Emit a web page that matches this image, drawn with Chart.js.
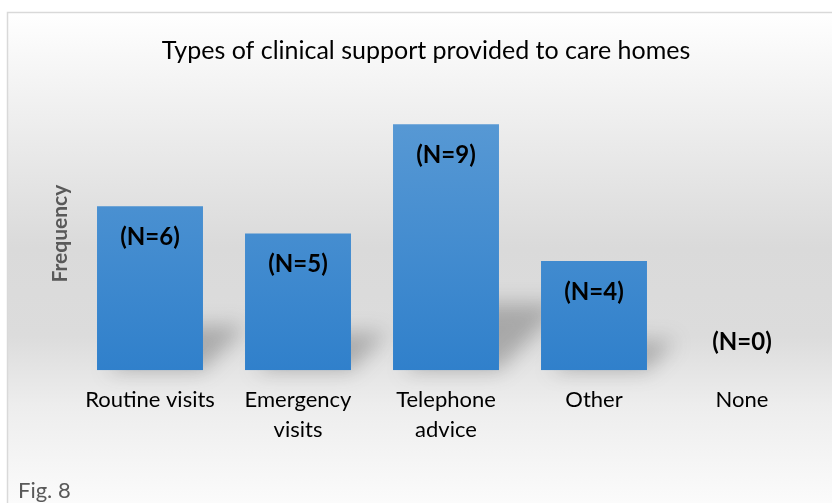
<!DOCTYPE html>
<html>
<head>
<meta charset="utf-8">
<script src="https://cdn.jsdelivr.net/npm/chart.js@4.4.0/dist/chart.umd.min.js"></script>
<style>
  html, body { margin: 0; padding: 0; background: #fff; }
  canvas { display: block; }
</style>
</head>
<body>
<canvas id="support" width="832" height="503"></canvas>
<script>
const categories = [["Routine visits"], ["Emergency", "visits"], ["Telephone", "advice"], ["Other"], ["None"]];
const frequency = [6, 5, 9, 4, 0];
const valueLabels = ["(N=6)", "(N=5)", "(N=9)", "(N=4)", "(N=0)"];

// frame + gradient background, drawn under everything
const frameBg = {
  id: 'frameBg',
  beforeDraw(chart) {
    const c = chart.ctx;
    c.save();
    const g = c.createLinearGradient(0, 12, 0, 503);
    g.addColorStop(0, '#ffffff');
    g.addColorStop(0.18, '#f1f1f1');
    g.addColorStop(0.48, '#dadada');
    g.addColorStop(0.66, '#dcdcdc');
    g.addColorStop(0.80, '#ededed');
    g.addColorStop(1, '#fbfbfb');
    c.fillStyle = g;
    c.fillRect(7, 12, 832, 503);
    c.strokeStyle = '#d9d9d9';
    c.lineWidth = 1.5;
    c.beginPath();
    c.moveTo(7.5, 503);
    c.lineTo(7.5, 12.5);
    c.lineTo(832, 12.5);
    c.stroke();
    c.fillStyle = '#595959';
    c.font = '22px Lato';
    c.textBaseline = 'middle';
    c.fillText('Fig. 8', 18, 491);
    c.restore();
  }
};

// soft floor shadows behind the bars
const barShadows = {
  id: 'barShadows',
  beforeDatasetsDraw(chart) {
    const c = chart.ctx;
    const meta = chart.getDatasetMeta(0);
    c.save();
    c.filter = 'blur(10px)';
    c.fillStyle = 'rgba(60,60,60,0.32)';
    meta.data.forEach((bar) => {
      const h = bar.base - bar.y;
      if (h <= 0) return;
      const left = bar.x - bar.width / 2;
      const right = bar.x + bar.width / 2;
      const dy = h * 0.27, dx = h * 0.26;
      c.beginPath();
      c.moveTo(left + 10, bar.base);
      c.lineTo(right, bar.base);
      c.lineTo(right + dx, bar.base - dy);
      c.lineTo(left + 10 + dx, bar.base - dy);
      c.closePath();
      c.fill();
    });
    c.restore();
  }
};

// "(N=x)" labels inside the bar tops
const nLabels = {
  id: 'nLabels',
  afterDatasetsDraw(chart) {
    const c = chart.ctx;
    const meta = chart.getDatasetMeta(0);
    c.save();
    c.font = 'bold 24px Lato';
    c.fillStyle = '#000';
    c.textAlign = 'center';
    c.textBaseline = 'middle';
    meta.data.forEach((bar, i) => {
      const y = frequency[i] > 0 ? bar.y + 31 : bar.base - 28;
      c.fillText(valueLabels[i], bar.x, y);
    });
    c.restore();
  }
};

const ctx = document.getElementById('support').getContext('2d');
const blueFill = (context) => {
  const area = context.chart.chartArea;
  if (!area) return '#4a8fd3';
  const bar = context.element;
  const top = bar && isFinite(bar.y) ? bar.y : area.top;
  const g = context.chart.ctx.createLinearGradient(0, top, 0, area.bottom);
  g.addColorStop(0, '#5b9bd5');
  g.addColorStop(1, '#3080cb');
  return g;
};

const myChart = new Chart(ctx, {
  type: 'bar',
  data: {
    labels: categories,
    datasets: [{
      label: 'Frequency',
      data: frequency,
      backgroundColor: blueFill,
      borderWidth: 0,
      barPercentage: 0.716,
      categoryPercentage: 1
    }]
  },
  options: {
    responsive: false,
    animation: false,
    layout: { padding: { left: 36, right: 16, top: 12, bottom: 43 } },
    plugins: {
      legend: { display: false },
      tooltip: { enabled: false },
      title: {
        display: true,
        text: 'Types of clinical support provided to care homes',
        color: '#000',
        font: { family: 'Lato', size: 25, weight: 'normal', lineHeight: 1.2 },
        padding: { top: 24, bottom: 31 }
      }
    },
    scales: {
      x: {
        grid: { display: false, drawTicks: false },
        border: { display: false },
        ticks: {
          color: '#000',
          padding: 15,
          maxRotation: 0,
          font: { family: 'Lato', size: 22, lineHeight: 1.36 }
        }
      },
      y: {
        min: 0,
        max: 10,
        grid: { display: false, drawTicks: false },
        border: { display: false },
        ticks: { display: false },
        title: {
          display: true,
          text: 'Frequency',
          color: '#595959',
          font: { family: 'Lato', size: 21, weight: 'bold', lineHeight: 1.2 },
          padding: { top: 11.4, bottom: 3.4 }
        }
      }
    }
  },
  plugins: [frameBg, barShadows, nLabels]
});
</script>
</body>
</html>
